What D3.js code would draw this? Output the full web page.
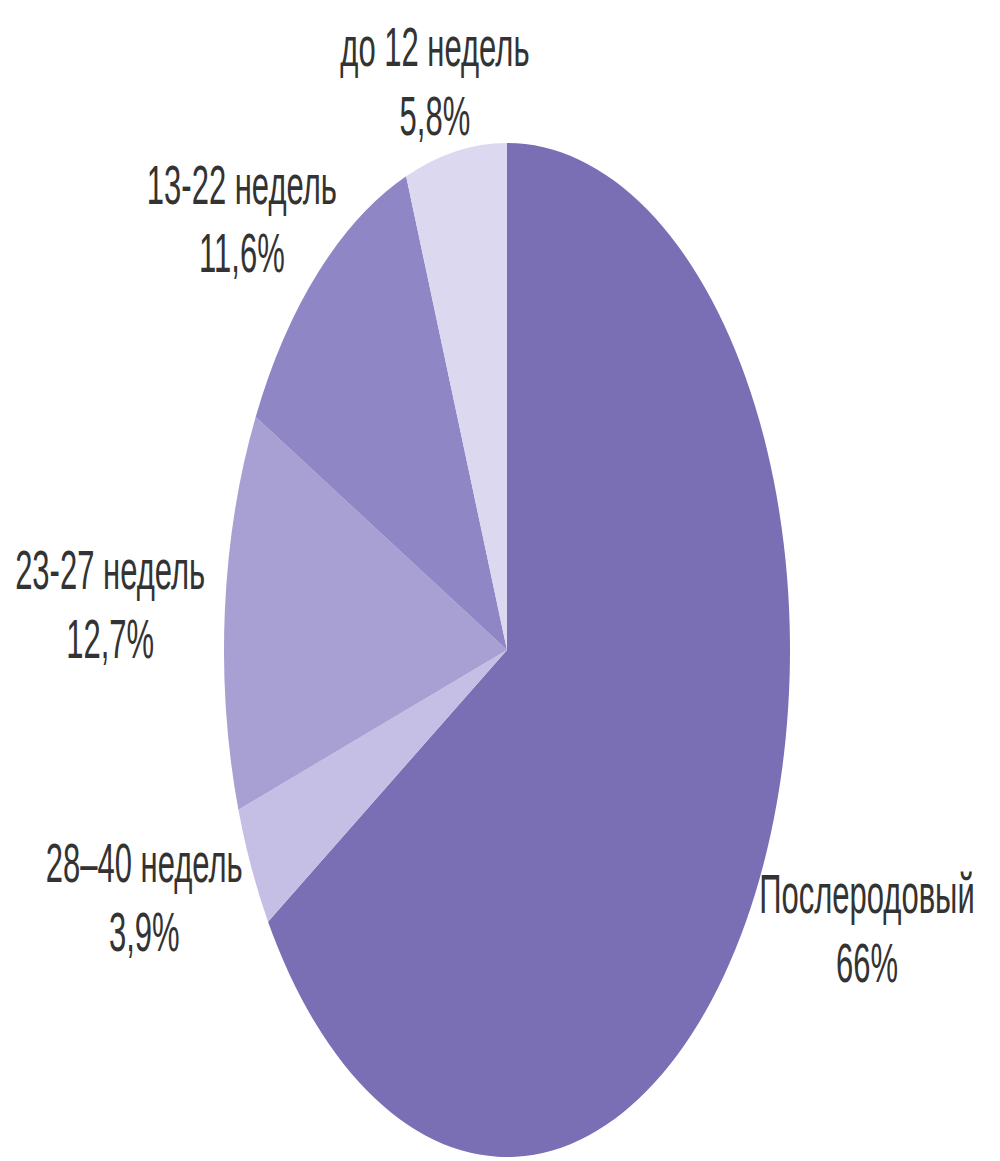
<!DOCTYPE html>
<html>
<head>
<meta charset="utf-8">
<script src="https://cdn.jsdelivr.net/npm/d3@7"></script>
<style>
  html, body { margin: 0; padding: 0; background: #ffffff; }
  svg { display: block; }
</style>
</head>
<body>
<svg id="chart" width="1000" height="1161"></svg>
<script>
// ---- data ----
const categories = ["Послеродовый", "28–40 недель", "23-27 недель", "13-22 недель", "до 12 недель"];
const values = [66, 3.9, 12.7, 11.6, 5.8];
const valueLabels = ["66%", "3,9%", "12,7%", "11,6%", "5,8%"];
const colors = ["#7a6eb4", "#c5bfe5", "#a89fd3", "#8f86c6", "#dcd8f0"];

// ---- layout ----
const cx = 507, cy = 650;
const R = 283;            // horizontal radius
const sy = 507 / 283;     // vertical stretch of the picture

const svg = d3.select("#chart");

const data = categories.map((c, i) => ({ cat: c, value: values[i], label: valueLabels[i], color: colors[i] }));

const pie = d3.pie().sort(null).value(d => d.value).startAngle(0).endAngle(2 * Math.PI);
const arcs = pie(data);
const arc = d3.arc().innerRadius(0).outerRadius(R);

const g = svg.append("g").attr("transform", `translate(${cx},${cy}) scale(1,${sy})`);
g.selectAll("path")
  .data(arcs)
  .enter()
  .append("path")
  .attr("d", arc)
  .attr("fill", d => d.data.color);

// ---- labels ----
const fontSize = 31;
const lineGap = 38.5;
const gx = 20, gy = 5;

arcs.forEach(a => {
  const mid = (a.startAngle + a.endAngle) / 2;
  const s = Math.sin(mid), c = Math.cos(mid);
  const lg = svg.append("g");
  const inner = lg.append("g").attr("transform", `scale(1,${sy})`);
  const t = inner.append("text")
    .attr("text-anchor", "middle")
    .attr("font-family", "'Liberation Sans', Arial, sans-serif")
    .attr("font-size", fontSize)
    .attr("fill", "#333333");
  t.append("tspan").attr("x", 0).attr("y", 0).text(a.data.cat);
  t.append("tspan").attr("x", 0).attr("y", lineGap).text(a.data.label);
  const bb = inner.node().getBBox();
  const bw = bb.width, bh = bb.height * sy;
  const bcx = bb.x + bb.width / 2, bcy = (bb.y + bb.height / 2) * sy;
  // anchor on ellipse edge, push box outward
  const px = cx + R * s, py = cy - R * sy * c;
  const tx = px + s * (bw / 2 + gx);
  const ty = py - c * (bh / 2 + gy);
  lg.attr("transform", `translate(${tx - bcx},${ty - bcy})`);
});
</script>
</body>
</html>
